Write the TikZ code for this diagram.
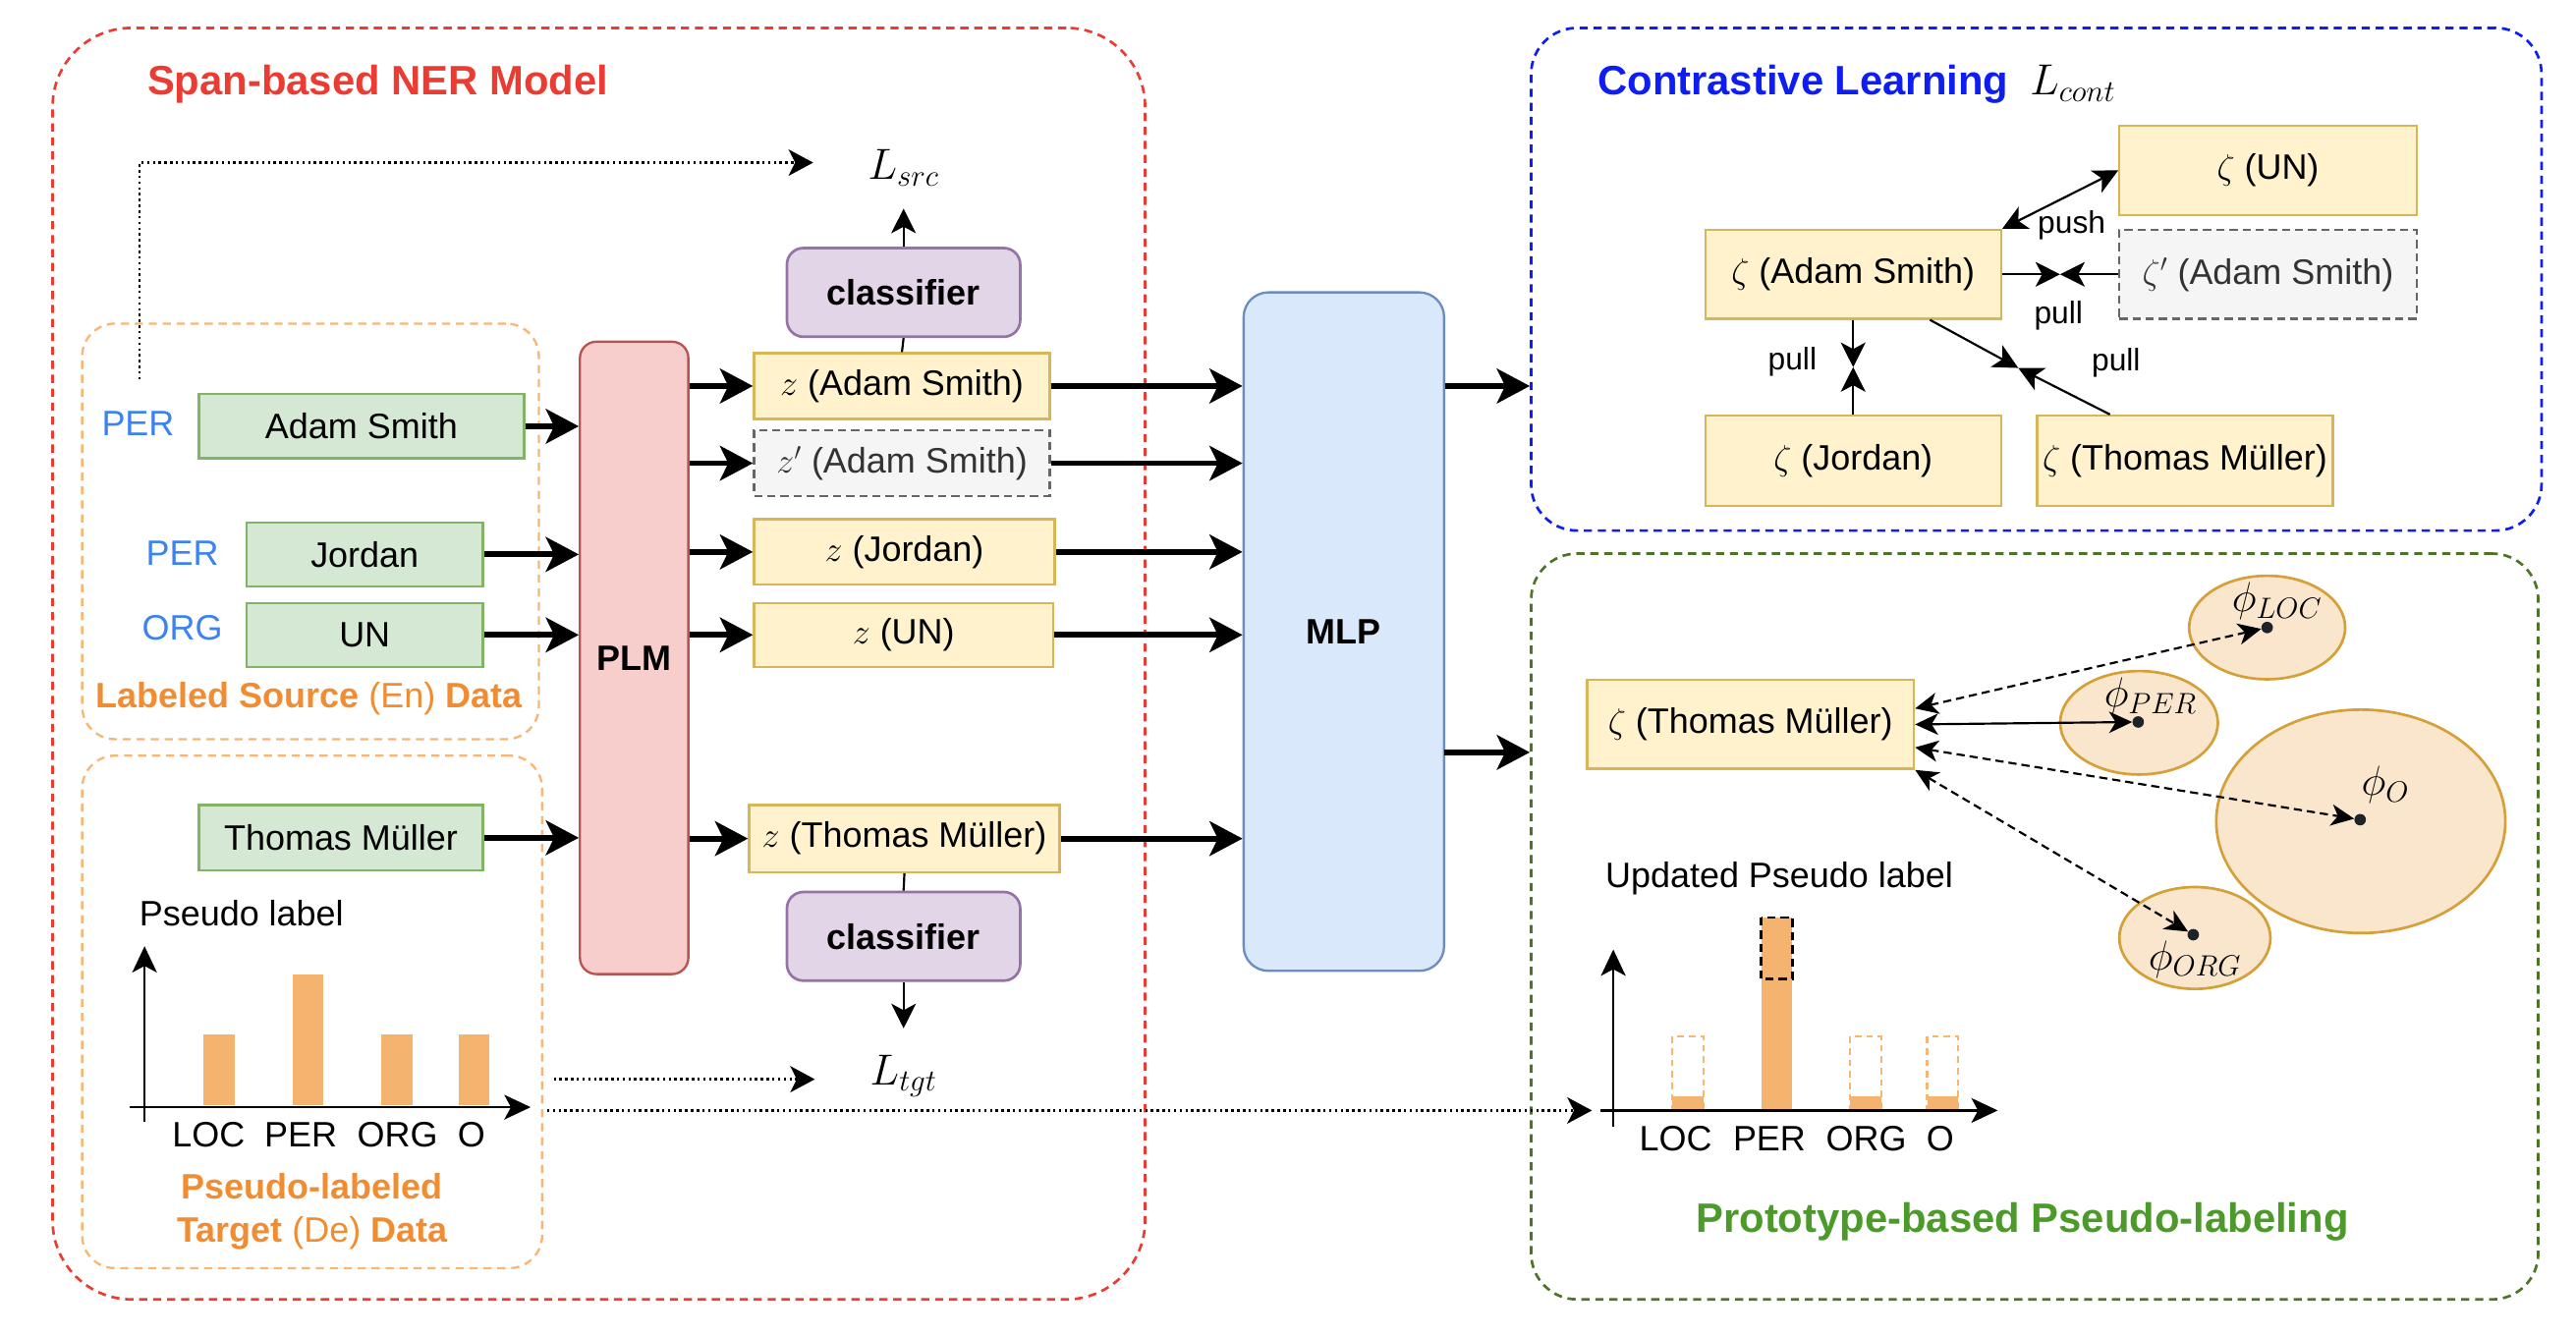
\RequirePackage{fix-cm}
\documentclass[tikz,border=0pt]{standalone}
\usepackage{fontspec}
\setmainfont{Liberation Sans}
\usetikzlibrary{arrows.meta,calc,shapes.geometric}
\definecolor{nerred}{RGB}{234,60,50}
\definecolor{clblue}{RGB}{15,30,240}
\definecolor{labblue}{RGB}{60,130,240}
\definecolor{orangetxt}{RGB}{240,140,50}
\definecolor{orangedash}{RGB}{247,182,115}
\definecolor{protoline}{RGB}{78,115,38}
\definecolor{prototxt}{RGB}{76,155,42}
\definecolor{gfill}{HTML}{D5E8D4}
\definecolor{gline}{HTML}{82B366}
\definecolor{yfill}{HTML}{FFF2CC}
\definecolor{yline}{HTML}{D6B656}
\definecolor{dfill}{HTML}{F5F5F5}
\definecolor{dline}{HTML}{666666}
\definecolor{rfill}{HTML}{F8CECC}
\definecolor{rline}{HTML}{B85450}
\definecolor{pfill}{HTML}{E1D5E7}
\definecolor{pline}{HTML}{9673A6}
\definecolor{bfill}{HTML}{DAE8FC}
\definecolor{bline}{HTML}{6C8EBF}
\definecolor{efill}{RGB}{250,229,205}
\definecolor{eline}{RGB}{212,160,55}
\definecolor{barc}{RGB}{244,180,112}
\definecolor{dotc}{RGB}{30,35,42}
\begin{document}
\begin{tikzpicture}[x=1pt,y=-1pt,
  every node/.style={font=\fontsize{21.5}{26}\selectfont},
  titlef/.style={font=\fontsize{25}{30}\selectfont\bfseries},
  boldf/.style={font=\fontsize{21.5}{26}\selectfont\bfseries},
  mathbig/.style={font=\fontsize{26.5}{30}\selectfont},
  phif/.style={font=\fontsize{25.5}{28}\selectfont},
  smallf/.style={font=\fontsize{19}{23}\selectfont},
  grpframe/.style={draw, line width=1.6pt, dash pattern=on 5pt off 3.5pt, rounded corners=#1, inner sep=0pt},
  gbox/.style={draw=gline, fill=gfill, line width=1.4pt, inner sep=0pt},
  ybox/.style={draw=yline, fill=yfill, line width=1.4pt, inner sep=0pt},
  dbox/.style={draw=dline, fill=dfill, line width=1.4pt, dash pattern=on 5pt off 3pt, inner sep=0pt, text=black!80},
  tarr/.style={line width=3.5pt, -{Stealth[length=20pt,width=21pt,inset=5pt]}},
  narr/.style={line width=1.3pt, -{Stealth[length=15pt,width=15pt,inset=4pt]}},
  barr/.style={line width=1.3pt, {Stealth[length=15pt,width=15pt,inset=4pt]}-{Stealth[length=15pt,width=15pt,inset=4pt]}},
  dotarr/.style={line width=1.5pt, dash pattern=on 1.5pt off 2pt, -{Stealth[length=15pt,width=16pt,inset=4pt]}},
  proarr/.style={line width=1.3pt, {Stealth[length=14pt,width=13pt,inset=4pt]}-{Stealth[length=14pt,width=13pt,inset=4pt]}},
  pdash/.style={dash pattern=on 5pt off 3pt},
  axarr/.style={line width=1.6pt, -{Stealth[length=16pt,width=15pt,inset=4pt]}},
  ell/.style={ellipse, draw=eline, fill=efill, line width=1.6pt, inner sep=0pt},
  dotn/.style={circle, fill=dotc, inner sep=0pt, minimum size=7pt},
]
\useasboundingbox (0,0) rectangle (1568,813);

% ---------- frames ----------
\node[grpframe=48pt, draw=nerred, minimum width=665pt, minimum height=774pt] (ner) at (364.5,404) {};
\node[grpframe=20pt, draw=orangedash, line width=1.4pt, minimum width=278pt, minimum height=253pt] (srcbox) at (189,323.5) {};
\node[grpframe=20pt, draw=orangedash, line width=1.4pt, minimum width=280pt, minimum height=312pt] (tgtbox) at (190,616) {};
\node[grpframe=28pt, draw=clblue, minimum width=615pt, minimum height=306pt] (cl) at (1239.5,170) {};
\node[grpframe=28pt, draw=protoline, minimum width=613pt, minimum height=454pt] (pp) at (1238.5,564) {};

% ---------- titles ----------
\node[titlef, text=nerred] (nertitle) at (230,51.5) {Span-based NER Model};
\node[titlef, text=clblue, anchor=west] (cltitle) at (969,51.5) {Contrastive Learning};
\node[mathbig, anchor=base west, xshift=6pt] (lcont) at (cltitle.base east) {$L_{cont}$};
\node[titlef, text=prototxt] (pptitle) at (1231,743.5) {Prototype-based Pseudo-labeling};

% ---------- left inputs ----------
\node[gbox, minimum width=198pt, minimum height=39pt] (adam) at (220,259.5) {Adam Smith};
\node[gbox, minimum width=144pt, minimum height=39pt] (jordan) at (222,337.5) {Jordan};
\node[gbox, minimum width=144pt, minimum height=39pt] (un) at (222,386.5) {UN};
\node[gbox, minimum width=173pt, minimum height=40pt] (thomas) at (207.5,510) {Thomas Müller};
\node[text=labblue] (lper1) at (84,258) {PER};
\node[text=labblue] (lper2) at (111,337) {PER};
\node[text=labblue] (lorg) at (111,382) {ORG};
\node[text=orangetxt] (srclabel) at (188,425.5) {\bfseries Labeled Source \mdseries(En) \bfseries Data};
\node[text=orangetxt, align=center] (tgtlabel) at (190,737.5) {\bfseries Pseudo-labeled\\\bfseries Target \mdseries(De) \bfseries Data};

% ---------- PLM / classifiers / z ----------
\node[draw=rline, fill=rfill, line width=1.4pt, rounded corners=10pt, minimum width=66pt, minimum height=385pt, boldf] (plm) at (386,400.5) {PLM};
\node[draw=pline, fill=pfill, line width=1.6pt, rounded corners=10pt, minimum width=142pt, minimum height=54pt, boldf] (clstop) at (550,178) {classifier};
\node[draw=pline, fill=pfill, line width=1.6pt, rounded corners=10pt, minimum width=142pt, minimum height=54pt, boldf] (clsbot) at (550,570) {classifier};
\node[ybox, minimum width=180pt, minimum height=40pt] (za) at (549,235) {$z$ (Adam Smith)};
\node[dbox, minimum width=180pt, minimum height=40pt] (zpa) at (549,282) {$z'$ (Adam Smith)};
\node[ybox, minimum width=183pt, minimum height=40pt] (zj) at (550.5,336) {$z$ (Jordan)};
\node[ybox, minimum width=182pt, minimum height=39pt] (zu) at (550,386.5) {$z$ (UN)};
\node[ybox, minimum width=189pt, minimum height=41pt] (zt) at (550.5,510.5) {$z$ (Thomas Müller)};
\node[draw=bline, fill=bfill, line width=1.4pt, rounded corners=15pt, minimum width=122pt, minimum height=413pt, boldf] (mlp) at (818,384.5) {MLP};
\node[mathbig] (lsrc) at (550,102) {$L_{src}$};
\node[mathbig] (ltgt) at (550,655) {$L_{tgt}$};

% ---------- thick arrows ----------
\draw[tarr] (adam.east) -- (adam.east -| plm.west);
\draw[tarr] (jordan.east) -- (jordan.east -| plm.west);
\draw[tarr] (un.east) -- (un.east -| plm.west);
\draw[tarr] (thomas.east) -- (thomas.east -| plm.west);
\foreach \n in {za,zpa,zj,zu,zt}{
  \draw[tarr] (plm.east |- \n.west) -- (\n.west);
  \draw[tarr] (\n.east) -- (\n.east -| mlp.west);
}
\draw[tarr] (mlp.east |- za.east) -- (cl.west |- za.east);
\coordinate (mlpout) at (879,458);
\draw[tarr] (mlpout) -- (mlpout -| pp.west);

% ---------- classifier connectors ----------
\draw[line width=1.3pt] (za.north) -- (clstop.south);
\coordinate (lsrcin) at (550,127);
\draw[narr] (clstop.north) -- (lsrcin);
\draw[line width=1.3pt] (zt.south) -- (clsbot.north);
\coordinate (ltgtin) at (550,626);
\draw[narr] (clsbot.south) -- (ltgtin);

% ---------- dotted arrows ----------
\coordinate (dsrc0) at (85,231);
\coordinate (dsrc1) at (85,99);
\coordinate (dsrc2) at (495,99);
\draw[dotarr] (dsrc0) -- (dsrc1) -- (dsrc2);
\coordinate (dtgt0) at (337,657);
\coordinate (dtgt1) at (496,657);
\draw[dotarr] (dtgt0) -- (dtgt1);
\coordinate (dlong0) at (333,676);
\coordinate (dlong1) at (969,676);
\draw[dotarr] (dlong0) -- (dlong1);

% ---------- left chart ----------
\fill[barc] (124,630) rectangle (143,673);
\fill[barc] (178,593) rectangle (197,673);
\fill[barc] (232,630) rectangle (251,673);
\fill[barc] (279,630) rectangle (298,673);
\draw[axarr] (88,683) -- (88,576);
\draw[axarr] (79,674) -- (323,674);
\node (xl1) at (127,691) {LOC};
\node (xl2) at (183,691) {PER};
\node (xl3) at (242,691) {ORG};
\node (xl4) at (287,691) {O};
\node (pslab) at (147,556) {Pseudo label};

% ---------- contrastive ----------
\node[ybox, minimum width=181pt, minimum height=54.5pt] (cun) at (1380.5,103.75) {$\zeta$ (UN)};
\node[ybox, minimum width=180pt, minimum height=54pt] (cadam) at (1128,167) {$\zeta$ (Adam Smith)};
\node[dbox, minimum width=181pt, minimum height=54pt] (cpadam) at (1380.5,167) {$\zeta'$ (Adam Smith)};
\node[ybox, minimum width=180pt, minimum height=55pt] (cjordan) at (1128,280.5) {$\zeta$ (Jordan)};
\node[ybox, minimum width=180pt, minimum height=55pt] (cthomas) at (1330,280.5) {$\zeta$ (Thomas Müller)};
\draw[barr] (cadam.north east) -- (cun.west);
\coordinate (mh) at (1254,167);
\draw[narr] (cadam.east) -- (mh);
\draw[narr] (cpadam.west) -- (mh);
\coordinate (mv) at (1128,223.5);
\draw[narr] (cadam.south) -- (mv);
\draw[narr] (cjordan.north) -- (mv);
\coordinate (md) at (1228.5,224);
\draw[narr] ($(cadam.south east)+(-44,0)$) -- (md);
\draw[narr] ($(cthomas.north west)+(45,0)$) -- (md);
\node[smallf] (lpush) at (1261,137) {push};
\node[smallf] (lpull1) at (1253,192) {pull};
\node[smallf] (lpull2) at (1091,220) {pull};
\node[smallf] (lpull3) at (1288,221) {pull};

% ---------- prototype ----------
\node[ybox, minimum width=199pt, minimum height=54pt] (pthomas) at (1065.5,441) {$\zeta$ (Thomas Müller)};
\node[ell, minimum width=95pt, minimum height=63pt] (eloc) at (1380,382) {};
\node[ell, minimum width=96pt, minimum height=63pt] (eper) at (1302,440) {};
\node[ell, minimum width=176pt, minimum height=136pt] (eo) at (1437,500) {};
\node[ell, minimum width=92pt, minimum height=62pt] (eorg) at (1336,571) {};
\node[dotn] (dloc) at (1380,382) {};
\node[dotn] (dper) at (1301.5,439.5) {};
\node[dotn] (dO) at (1436.6,499) {};
\node[dotn] (dorg) at (1335,569) {};
\draw[proarr, pdash] ($(pthomas.north east)+(0,18)$) -- (dloc);
\draw[proarr] (pthomas.east) -- (dper);
\draw[proarr, pdash] ($(pthomas.east)+(0,14)$) -- (dO);
\draw[proarr, pdash] (pthomas.south east) -- (dorg);
\node[phif] (ploc) at (1386,366) {$\phi_{LOC}$};
\node[phif] (pper) at (1309,424) {$\phi_{PER}$};
\node[phif] (po) at (1452,478) {$\phi_{O}$};
\node[phif] (porg) at (1336,584) {$\phi_{ORG}$};

% ---------- right chart ----------
\draw[orangedash, line width=1.3pt, dash pattern=on 4pt off 3pt] (1018,631) rectangle (1037,675);
\fill[barc] (1018,667.5) rectangle (1037,675);
\fill[barc] (1072,558.6) rectangle (1091,675);
\draw[black, line width=1.5pt, dash pattern=on 5pt off 3pt] (1072,558.6) rectangle (1091,596);
\draw[orangedash, line width=1.3pt, dash pattern=on 4pt off 3pt] (1126,631) rectangle (1145,675);
\fill[barc] (1126,667.5) rectangle (1145,675);
\draw[orangedash, line width=1.3pt, dash pattern=on 4pt off 3pt] (1173,631) rectangle (1192,675);
\fill[barc] (1173,667.5) rectangle (1192,675);
\draw[axarr] (982,686) -- (982,578);
\draw[axarr] (974,676) -- (1216,676);
\node (rl1) at (1020,693) {LOC};
\node (rl2) at (1077,693) {PER};
\node (rl3) at (1136,693) {ORG};
\node (rl4) at (1181,693) {O};
\node (uplab) at (1083,535) {Updated Pseudo label};
\end{tikzpicture}
\end{document}
